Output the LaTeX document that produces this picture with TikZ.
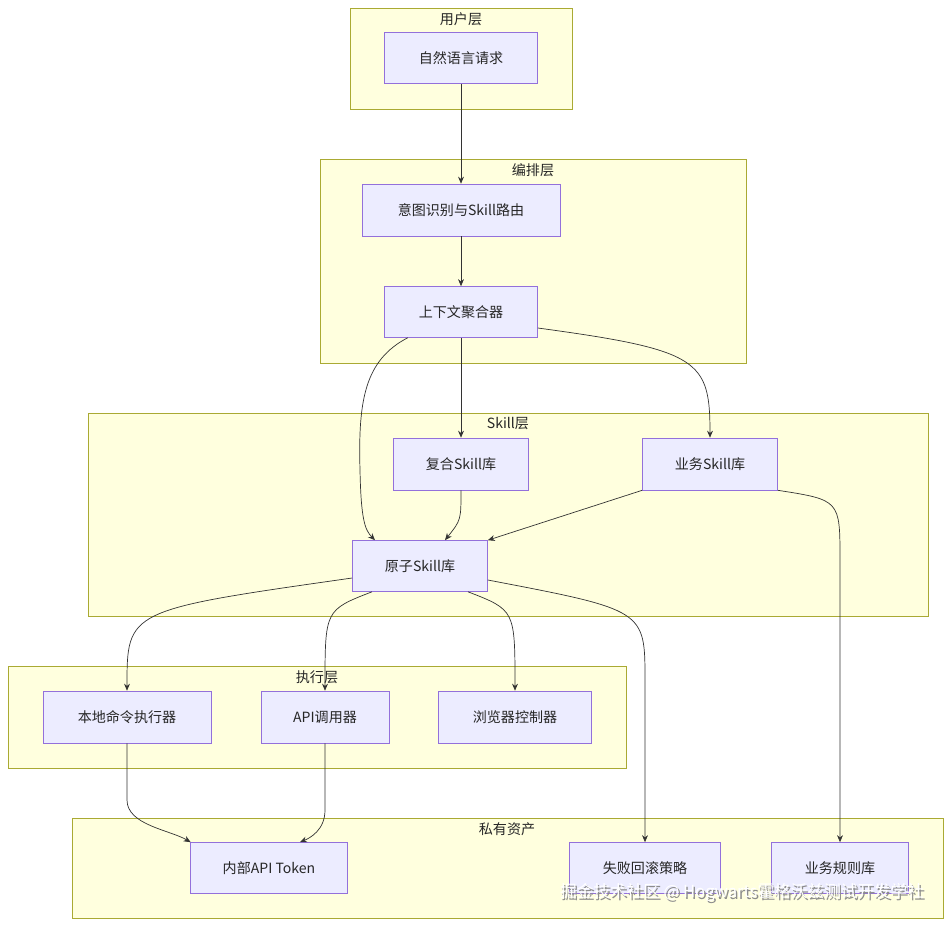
\documentclass[tikz,border=0pt]{standalone}
\usepackage{fontspec}
\setmainfont{Noto Sans CJK SC}
\usetikzlibrary{arrows.meta,positioning,calc}
\definecolor{clFill}{HTML}{FFFFDE}
\definecolor{clLine}{HTML}{AAAA33}
\definecolor{ndFill}{HTML}{ECECFF}
\definecolor{ndLine}{HTML}{9370DB}
\tikzset{
    tsCluster/.style={draw=clLine, fill=clFill, line width=0.5pt},
    tsTitle/.style={font=\fontsize{12pt}{14pt}\selectfont, text=black!85},
    tsBox/.style={draw=ndLine, fill=ndFill, line width=0.5pt,
        font=\fontsize{12pt}{14pt}\selectfont, text=black!85, inner sep=0pt},
    tsEdge/.style={draw=black!80, line width=0.6pt, -{Stealth[length=6pt,width=5pt]}}
}
\begin{document}
\begin{tikzpicture}[x=0.03cm, y=-0.03cm]
        \useasboundingbox (0,0) rectangle (952,928);

        % subgraphs
        \draw[tsCluster] (350,8) rectangle (572,109);
        \draw[tsCluster] (320,159) rectangle (746,363);
        \draw[tsCluster] (88,413) rectangle (928,616);
        \draw[tsCluster] (8,666) rectangle (626,768);
        \draw[tsCluster] (72,818) rectangle (943,918);
        \node[tsTitle] (tUser) at (461,19) {用户层};
        \node[tsTitle] (tOrch) at (533,170) {编排层};
        \node[tsTitle] (tSkill) at (508,424) {Skill层};
        \node[tsTitle] (tExec) at (317,677) {执行层};
        \node[tsTitle] (tAsset) at (507,829) {私有资产};

        % nodes
        \node[tsBox, minimum width=4.59cm, minimum height=1.53cm] (req) at (461,58) {自然语言请求};
        \node[tsBox, minimum width=5.94cm, minimum height=1.56cm] (route) at (461,210) {意图识别与Skill路由};
        \node[tsBox, minimum width=4.59cm, minimum height=1.53cm] (ctx) at (461,312) {上下文聚合器};
        \node[tsBox, minimum width=4.05cm, minimum height=1.56cm] (comp) at (461,464) {复合Skill库};
        \node[tsBox, minimum width=4.05cm, minimum height=1.56cm] (biz) at (710,464) {业务Skill库};
        \node[tsBox, minimum width=4.05cm, minimum height=1.53cm] (atom) at (420,566) {原子Skill库};
        \node[tsBox, minimum width=5.04cm, minimum height=1.56cm] (local) at (127,717) {本地命令执行器};
        \node[tsBox, minimum width=3.84cm, minimum height=1.56cm] (api) at (325,717) {API调用器};
        \node[tsBox, minimum width=4.59cm, minimum height=1.56cm] (browser) at (515,717) {浏览器控制器};
        \node[tsBox, minimum width=4.71cm, minimum height=1.53cm] (token) at (269,868) {内部API Token};
        \node[tsBox, minimum width=4.53cm, minimum height=1.53cm] (rollback) at (645,868) {失败回滚策略};
        \node[tsBox, minimum width=4.11cm, minimum height=1.53cm] (rules) at (840,868) {业务规则库};

        % edges
        \draw[tsEdge] (req) -- (route);
        \draw[tsEdge] (route) -- (ctx);
        \draw[tsEdge] (ctx) -- (comp);
        \draw[tsEdge] (ctx.east |- 0,328) .. controls (700,350) and (710,360) .. (biz.north);
        \draw[tsEdge] ([xshift=-1.6cm]ctx.south) .. controls (365,360) and (358,400) .. (360,470) .. controls (361,520) and (365,530) .. ([xshift=-1.35cm]atom.north);
        \draw[tsEdge] (comp.south) .. controls (461,520) .. ([xshift=0.75cm]atom.north);
        \draw[tsEdge] (biz.south west) -- (atom.north east);
        \draw[tsEdge] (biz.south east) .. controls (840,500) .. (840,560) -- (rules.north);
        \draw[tsEdge] (atom.west |- 0,578) .. controls (127,610) .. (local.north);
        \draw[tsEdge] ([xshift=-1.44cm]atom.south) .. controls (325,610) .. (api.north);
        \draw[tsEdge] ([xshift=1.44cm]atom.south) .. controls (515,610) .. (browser.north);
        \draw[tsEdge] (atom.east |- 0,580) .. controls (645,610) .. (645,680) -- (rollback.north);
        \draw[tsEdge] (local.south) -- (127,800) .. controls (127,825) and (170,830) .. ([xshift=-2.35cm]token.north);
        \draw[tsEdge] (api.south) -- (325,810) .. controls (325,830) and (310,838) .. ([xshift=0.93cm]token.north);

        % watermark
        \node[font=\fontsize{14.2pt}{16pt}\selectfont, text=black!45, anchor=east] (markShadow) at (929.6,894.6) {掘金技术社区 @ Hogwarts霍格沃兹测试开发学社};
        \node[font=\fontsize{14.2pt}{16pt}\selectfont, text=white, anchor=east] (mark) at (928,893) {掘金技术社区 @ Hogwarts霍格沃兹测试开发学社};
\end{tikzpicture}
\end{document}
